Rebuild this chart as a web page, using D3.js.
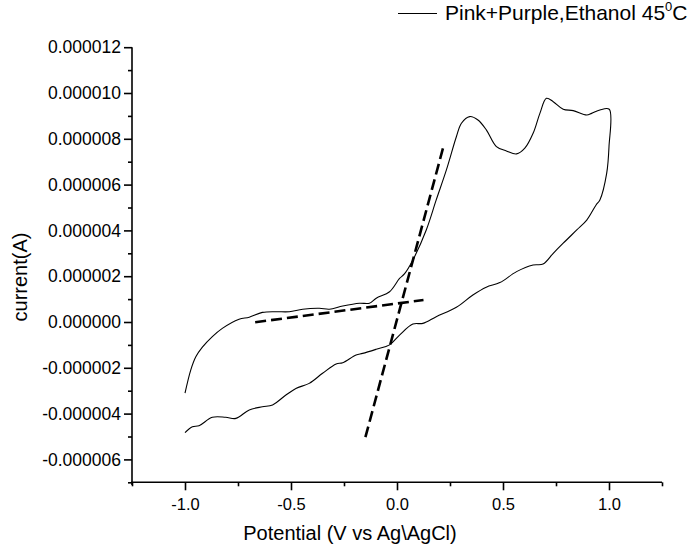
<!DOCTYPE html>
<html>
<head>
<meta charset="utf-8">
<script src="https://cdn.jsdelivr.net/npm/d3@7"></script>
<style>
  body { margin: 0; background: #fff; }
  svg text { font-family: "Liberation Sans", Arial, sans-serif; fill: #000; }
</style>
</head>
<body>
<svg id="chart" width="693" height="552"></svg>
<script>
// CV scan (V vs Ag\AgCl, A) - forward branch then reverse branch
const potential = [
  -1.000, -0.973, -0.949, -0.918, -0.871, -0.824, -0.745, -0.697, -0.635, -0.571,
  -0.508, -0.445, -0.366, -0.319, -0.256, -0.177, -0.130, -0.098, -0.035, 0.012,
  0.035, 0.075, 0.138, 0.185, 0.233, 0.280, 0.304, 0.343, 0.382, 0.422,
  0.469, 0.516, 0.564, 0.603, 0.642, 0.674, 0.705, 0.737, 0.784, 0.831,
  0.895, 0.918, 0.957, 1.001,
  1.000, 0.989, 0.957, 0.939, 0.895, 0.848, 0.784, 0.737, 0.689, 0.642,
  0.564, 0.485, 0.421, 0.358, 0.280, 0.185, 0.122, 0.075, 0.012, -0.035,
  -0.098, -0.162, -0.193, -0.256, -0.287, -0.351, -0.414, -0.477, -0.524, -0.587,
  -0.635, -0.697, -0.760, -0.808, -0.871, -0.934, -0.965, -1.000
];
const current = [
  -3.11e-6, -2.10e-6, -1.52e-6, -1.10e-6, -0.64e-6, -0.28e-6, 0.12e-6, 0.21e-6, 0.42e-6, 0.45e-6,
  0.45e-6, 0.56e-6, 0.60e-6, 0.56e-6, 0.70e-6, 0.82e-6, 0.82e-6, 1.04e-6, 1.32e-6, 1.90e-6,
  2.10e-6, 2.71e-6, 4.02e-6, 5.33e-6, 6.64e-6, 8.09e-6, 8.68e-6, 8.97e-6, 8.82e-6, 8.38e-6,
  7.66e-6, 7.47e-6, 7.34e-6, 7.59e-6, 8.24e-6, 9.11e-6, 9.77e-6, 9.62e-6, 9.29e-6, 9.23e-6,
  9.04e-6, 9.11e-6, 9.26e-6, 9.29e-6,
  7.66e-6, 6.49e-6, 5.33e-6, 5.11e-6, 4.45e-6, 4.02e-6, 3.44e-6, 3.00e-6, 2.53e-6, 2.49e-6,
  2.20e-6, 1.72e-6, 1.52e-6, 1.18e-6, 0.64e-6, 0.23e-6, -0.06e-6, -0.09e-6, -0.57e-6, -1.00e-6,
  -1.19e-6, -1.37e-6, -1.44e-6, -1.78e-6, -1.83e-6, -2.24e-6, -2.68e-6, -2.90e-6, -3.19e-6, -3.62e-6,
  -3.70e-6, -3.84e-6, -4.21e-6, -4.16e-6, -4.16e-6, -4.53e-6, -4.57e-6, -4.83e-6
];

// tangent lines (dashed)
const tangentSteepV = [-0.149, 0.221];
const tangentSteepI = [-5.03e-6, 7.73e-6];
const tangentFlatV = [-0.669, 0.125];
const tangentFlatI = [-0.01e-6, 0.96e-6];

// ticks
const xMajor = [-1.0, -0.5, 0.0, 0.5, 1.0];
const xMinor = [-1.25, -0.75, -0.25, 0.25, 0.75, 1.25];
const yMajor = [-6e-6, -4e-6, -2e-6, 0, 2e-6, 4e-6, 6e-6, 8e-6, 10e-6, 12e-6];
const yMinor = [-7e-6, -5e-6, -3e-6, -1e-6, 1e-6, 3e-6, 5e-6, 7e-6, 9e-6, 11e-6];

const seriesName = "Pink+Purple,Ethanol 45";

const svg = d3.select("#chart");

const x = d3.scaleLinear().domain([-1.25, 1.25]).range([132, 662]);
const y = d3.scaleLinear().domain([-7e-6, 12e-6]).range([482.3, 47.2]);

// hyphen instead of unicode minus
const fmt = f => d => d3.format(f)(d).replace("\u2212", "-");

// AXES
const xAxisG = svg.append("g").attr("transform", "translate(0,482.3)");
xAxisG.call(d3.axisBottom(x).tickValues(xMajor).tickSize(8).tickPadding(8).tickFormat(fmt(".1f")));
const xMinorG = svg.append("g").attr("transform", "translate(0,482.3)");
xMinorG.call(d3.axisBottom(x).tickValues(xMinor).tickSize(4).tickFormat(""));

const yAxisG = svg.append("g").attr("transform", "translate(132,0)");
yAxisG.call(d3.axisLeft(y).tickValues(yMajor).tickSize(8).tickPadding(3).tickFormat(fmt(".6f")));
const yMinorG = svg.append("g").attr("transform", "translate(132,0)");
yMinorG.call(d3.axisLeft(y).tickValues(yMinor).tickSize(4).tickFormat(""));

svg.selectAll(".domain").attr("stroke", "#000").attr("stroke-width", 1.6);
svg.selectAll(".tick line").attr("stroke", "#000").attr("stroke-width", 1.6);
svg.selectAll(".tick text").attr("font-family", "Liberation Sans, Arial, sans-serif");
xAxisG.selectAll(".tick text").attr("font-size", "16.5px");
yAxisG.selectAll(".tick text").attr("font-size", "17.5px");
xAxisG.select(".domain").attr("d", "M131,0H662");
yAxisG.select(".domain").attr("d", "M0,485H0V47.2");
xMinorG.select(".domain").remove();
yMinorG.select(".domain").remove();

// CURVE
const pts = potential.map((v, i) => [v, current[i]]);
svg.append("path")
  .datum(pts)
  .attr("fill", "none")
  .attr("stroke", "#000")
  .attr("stroke-width", 1.1)
  .attr("d", d3.line().x(d => x(d[0])).y(d => y(d[1])).curve(d3.curveCatmullRom));

// TANGENTS
const dashLine = d3.line().x(d => x(d[0])).y(d => y(d[1]));
[[tangentSteepV, tangentSteepI], [tangentFlatV, tangentFlatI]].forEach(([vs, is]) => {
  svg.append("path")
    .datum(vs.map((v, i) => [v, is[i]]))
    .attr("fill", "none")
    .attr("stroke", "#000")
    .attr("stroke-width", 2.6)
    .attr("stroke-dasharray", "11,5")
    .attr("d", dashLine);
});

// AXIS TITLES
svg.append("text")
  .attr("x", 350).attr("y", 540)
  .attr("text-anchor", "middle")
  .attr("font-size", "20px")
  .text("Potential (V vs Ag\\AgCl)");

svg.append("text")
  .attr("transform", "translate(27,277) rotate(-90)")
  .attr("text-anchor", "middle")
  .attr("font-size", "20px")
  .text("current(A)");

// LEGEND
svg.append("line")
  .attr("x1", 398).attr("x2", 437)
  .attr("y1", 13.5).attr("y2", 13.5)
  .attr("stroke", "#000").attr("stroke-width", 1.1);
const leg = svg.append("text")
  .attr("x", 445).attr("y", 20)
  .attr("font-size", "21px");
leg.append("tspan").text(seriesName);
leg.append("tspan").attr("font-size", "13px").attr("dy", -9).text("0");
leg.append("tspan").attr("dy", 9).text("C");
</script>
</body>
</html>
